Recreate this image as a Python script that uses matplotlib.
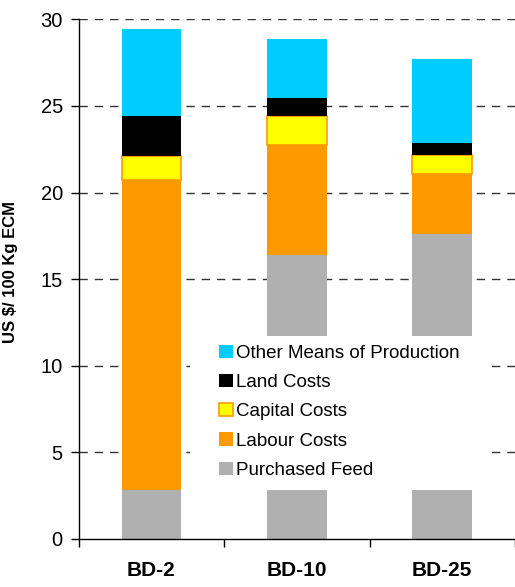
import matplotlib
matplotlib.use("Agg")
import matplotlib.pyplot as plt
import matplotlib.patches as patches
import numpy as np

plt.rcParams['font.family'] = ['Liberation Sans', 'DejaVu Sans']

categorias = ['BD-2', 'BD-10', 'BD-25']
purchased_feed = [2.8, 16.4, 17.6]
labour_costs = [17.9, 6.35, 3.45]
capital_costs = [1.4, 1.65, 1.1]
land_costs = [2.3, 1.05, 0.7]
other_means = [5.05, 3.4, 4.85]

series = [
    ('Purchased Feed', purchased_feed, '#B0B0B0', 'none'),
    ('Labour Costs', labour_costs, '#FF9900', 'none'),
    ('Capital Costs', capital_costs, '#FFFF00', '#FF9900'),
    ('Land Costs', land_costs, '#000000', 'none'),
    ('Other Means of Production', other_means, '#00CCFF', 'none'),
]

fig = plt.figure(figsize=(5.15, 5.87), dpi=100)
ax = fig.add_axes([0.153, 0.082, 0.847, 0.885])

x = np.arange(len(categorias))
base = np.zeros(len(categorias))
handles = []
for nombre, valores, color, borde in series:
    b = ax.bar(x, valores, width=0.41, bottom=base, color=color,
               edgecolor=borde, linewidth=1.2 if borde != 'none' else 0,
               label=nombre, zorder=2)
    handles.append(b)
    base = base + np.array(valores)

ax.set_xlim(-0.5, 2.5)
ax.set_ylim(0, 30)
ax.set_yticks(range(0, 31, 5))
ax.tick_params(axis='y', labelsize=14.5, length=5.5, width=1, pad=6, direction='out')

ax.set_xticks(x)
ax.set_xticklabels(categorias, fontsize=15, fontweight='bold')
ax.tick_params(axis='x', which='major', length=0, pad=16)
ax.set_xticks([-0.5, 0.5, 1.5, 2.5], minor=True)
ax.tick_params(axis='x', which='minor', length=5.5, width=1, direction='out')

for s in ['top', 'right']:
    ax.spines[s].set_visible(False)
for s in ['left', 'bottom']:
    ax.spines[s].set_linewidth(1)

# grilla punteada solo para 5..30
for yv in range(5, 31, 5):
    ax.axhline(yv, color='#333333', linewidth=1, linestyle=(0, (6, 5)), zorder=1)

ax.set_ylabel('US $/ 100 Kg ECM', fontsize=12, fontweight='bold')
ax.yaxis.set_label_coords(-0.14, 0.514)

# caja blanca detras de la leyenda
caja = patches.Rectangle((0.255, 0.094), 0.692, 0.297, transform=ax.transAxes,
                         facecolor='white', edgecolor='none', zorder=4)
ax.add_patch(caja)

leg = ax.legend(handles[::-1], [s[0] for s in series][::-1],
                loc='upper left', bbox_to_anchor=(0.30, 0.392), frameon=False,
                fontsize=13.5, handlelength=0.72, handleheight=0.72,
                handletextpad=0.2, labelspacing=0.64, borderpad=0)
leg.set_zorder(5)

plt.savefig('out.png', dpi=100)
